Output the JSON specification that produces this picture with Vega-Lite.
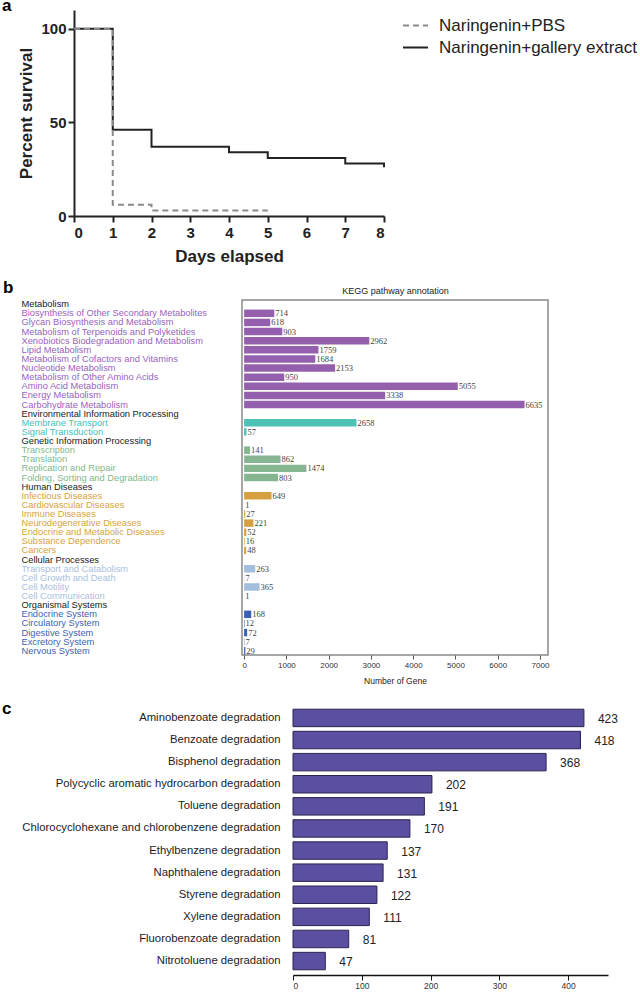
{
  "$schema": "https://vega.github.io/schema/vega-lite/v6.json",
  "background": "white",
  "padding": {"left": 1, "top": -3, "right": 0, "bottom": 0},
  "config": {
    "view": {"stroke": null},
    "font": "Liberation Sans",
    "axis": {"grid": false}
  },
  "datasets": {
    "survival": [
      {"group": "Naringenin+gallery extract", "day": 0, "pct": 100},
      {"group": "Naringenin+gallery extract", "day": 1, "pct": 46},
      {"group": "Naringenin+gallery extract", "day": 2, "pct": 37},
      {"group": "Naringenin+gallery extract", "day": 4, "pct": 34},
      {"group": "Naringenin+gallery extract", "day": 5, "pct": 31},
      {"group": "Naringenin+gallery extract", "day": 7, "pct": 28},
      {"group": "Naringenin+gallery extract", "day": 8, "pct": 26},
      {"group": "Naringenin+PBS", "day": 0, "pct": 100},
      {"group": "Naringenin+PBS", "day": 1, "pct": 6},
      {"group": "Naringenin+PBS", "day": 2, "pct": 3},
      {"group": "Naringenin+PBS", "day": 5, "pct": 3}
    ],
    "kegg": [
      {"grp": "Metabolism", "cat": "Biosynthesis of Other Secondary Metabolites", "n": 714},
      {"grp": "Metabolism", "cat": "Glycan Biosynthesis and Metabolism", "n": 618},
      {"grp": "Metabolism", "cat": "Metabolism of Terpenoids and Polyketides", "n": 903},
      {"grp": "Metabolism", "cat": "Xenobiotics Biodegradation and Metabolism", "n": 2962},
      {"grp": "Metabolism", "cat": "Lipid Metabolism", "n": 1759},
      {"grp": "Metabolism", "cat": "Metabolism of Cofactors and Vitamins", "n": 1684},
      {"grp": "Metabolism", "cat": "Nucleotide Metabolism", "n": 2153},
      {"grp": "Metabolism", "cat": "Metabolism of Other Amino Acids", "n": 950},
      {"grp": "Metabolism", "cat": "Amino Acid Metabolism", "n": 5055},
      {"grp": "Metabolism", "cat": "Energy Metabolism", "n": 3338},
      {"grp": "Metabolism", "cat": "Carbohydrate Metabolism", "n": 6635},
      {"grp": "Environmental Information Processing", "cat": "Membrane Transport", "n": 2658},
      {"grp": "Environmental Information Processing", "cat": "Signal Transduction", "n": 57},
      {"grp": "Genetic Information Processing", "cat": "Transcription", "n": 141},
      {"grp": "Genetic Information Processing", "cat": "Translation", "n": 862},
      {"grp": "Genetic Information Processing", "cat": "Replication and Repair", "n": 1474},
      {"grp": "Genetic Information Processing", "cat": "Folding, Sorting and Degradation", "n": 803},
      {"grp": "Human Diseases", "cat": "Infectious Diseases", "n": 649},
      {"grp": "Human Diseases", "cat": "Cardiovascular Diseases", "n": 1},
      {"grp": "Human Diseases", "cat": "Immune Diseases", "n": 27},
      {"grp": "Human Diseases", "cat": "Neurodegenerative Diseases", "n": 221},
      {"grp": "Human Diseases", "cat": "Endocrine and Metabolic Diseases", "n": 52},
      {"grp": "Human Diseases", "cat": "Substance Dependence", "n": 16},
      {"grp": "Human Diseases", "cat": "Cancers", "n": 48},
      {"grp": "Cellular Processes", "cat": "Transport and Catabolism", "n": 263},
      {"grp": "Cellular Processes", "cat": "Cell Growth and Death", "n": 7},
      {"grp": "Cellular Processes", "cat": "Cell Motility", "n": 365},
      {"grp": "Cellular Processes", "cat": "Cell Communication", "n": 1},
      {"grp": "Organismal Systems", "cat": "Endocrine System", "n": 168},
      {"grp": "Organismal Systems", "cat": "Circulatory System", "n": 12},
      {"grp": "Organismal Systems", "cat": "Digestive System", "n": 72},
      {"grp": "Organismal Systems", "cat": "Excretory System", "n": 7},
      {"grp": "Organismal Systems", "cat": "Nervous System", "n": 29}
    ],
    "xeno": [
      {"name": "Aminobenzoate degradation", "v": 423},
      {"name": "Benzoate degradation", "v": 418},
      {"name": "Bisphenol degradation", "v": 368},
      {"name": "Polycyclic aromatic hydrocarbon degradation", "v": 202},
      {"name": "Toluene degradation", "v": 191},
      {"name": "Chlorocyclohexane and chlorobenzene degradation", "v": 170},
      {"name": "Ethylbenzene degradation", "v": 137},
      {"name": "Naphthalene degradation", "v": 131},
      {"name": "Styrene degradation", "v": 122},
      {"name": "Xylene degradation", "v": 111},
      {"name": "Fluorobenzoate degradation", "v": 81},
      {"name": "Nitrotoluene degradation", "v": 47}
    ]
  },
  "spacing": 14,
  "resolve": {"scale": {"color": "independent", "strokeDash": "independent"}, "legend": {"color": "independent", "strokeDash": "independent"}},
  "vconcat": [
    {
      "spacing": 0,
      "hconcat": [
        {"width": 1, "height": 1, "data": {"values": []}, "mark": "point"},
        {
          "width": 310, "height": 206,
          "title": {"text": "a", "anchor": "start", "frame": "group", "orient": "top", "baseline": "alphabetic", "offset": -18, "dx": -72, "fontSize": 17, "fontWeight": "bold", "color": "#000", "font": "Liberation Sans"},
          "data": {"name": "survival"},
          "mark": {"type": "line", "interpolate": "step-after", "strokeWidth": 2},
          "encoding": {
            "x": {"field": "day", "type": "quantitative",
              "scale": {"domain": [0, 8], "nice": false},
              "axis": {"values": [0,1,2,3,4,5,6,7,8], "title": "Days elapsed", "domainColor": "#222", "domainWidth": 2, "tickColor": "#222", "tickWidth": 2, "tickSize": 6, "labelFontSize": 15, "labelFontWeight": "bold", "labelColor": "#222", "labelPadding": 3, "titleFontSize": 17, "titleFontWeight": "bold", "titleColor": "#222", "titlePadding": 8}},
            "y": {"field": "pct", "type": "quantitative",
              "scale": {"domain": [0, 110], "nice": false},
              "axis": {"values": [0, 50, 100], "title": "Percent survival", "domainColor": "#222", "domainWidth": 2, "tickColor": "#222", "tickWidth": 2, "tickSize": 6, "labelFontSize": 15, "labelFontWeight": "bold", "labelColor": "#222", "labelPadding": 2, "titleFontSize": 17, "titleFontWeight": "bold", "titleColor": "#222", "titlePadding": 5}},
            "color": {"field": "group", "type": "nominal",
              "scale": {"domain": ["Naringenin+PBS", "Naringenin+gallery extract"], "range": ["#8a8a8a", "#222222"]},
              "legend": {"orient": "none", "legendX": 401, "legendY": 2, "title": null, "symbolType": "stroke", "symbolSize": 625, "symbolStrokeWidth": 2, "labelFontSize": 17, "labelColor": "#222", "labelFont": "Liberation Sans", "rowPadding": 0, "labelOffset": 10, "labelLimit": 300}},
            "strokeDash": {"field": "group", "type": "nominal",
              "scale": {"domain": ["Naringenin+PBS", "Naringenin+gallery extract"], "range": [[6, 4], [1, 0]]}}
          }
        }
      ]
    },
    {
      "spacing": 0,
      "hconcat": [
        {"width": 1, "height": 1, "data": {"values": []}, "mark": "point"},
        {
          "width": 306, "height": 355,
          "view": {"stroke": "#8a8a8a", "strokeWidth": 1.5},
          "title": {"text": "b", "anchor": "start", "frame": "group", "orient": "top", "baseline": "alphabetic", "offset": -24, "dx": -239, "fontSize": 17, "fontWeight": "bold", "color": "#000", "font": "Liberation Sans"},
          "data": {"name": "kegg"},
          "resolve": {"axis": {"x": "independent"}},
          "encoding": {
            "y": {"field": "cat", "type": "nominal", "sort": null,
              "scale": {"domain": ["Metabolism","Biosynthesis of Other Secondary Metabolites","Glycan Biosynthesis and Metabolism","Metabolism of Terpenoids and Polyketides","Xenobiotics Biodegradation and Metabolism","Lipid Metabolism","Metabolism of Cofactors and Vitamins","Nucleotide Metabolism","Metabolism of Other Amino Acids","Amino Acid Metabolism","Energy Metabolism","Carbohydrate Metabolism","Environmental Information Processing","Membrane Transport","Signal Transduction","Genetic Information Processing","Transcription","Translation","Replication and Repair","Folding, Sorting and Degradation","Human Diseases","Infectious Diseases","Cardiovascular Diseases","Immune Diseases","Neurodegenerative Diseases","Endocrine and Metabolic Diseases","Substance Dependence","Cancers","Cellular Processes","Transport and Catabolism","Cell Growth and Death","Cell Motility","Cell Communication","Organismal Systems","Endocrine System","Circulatory System","Digestive System","Excretory System","Nervous System"], "paddingInner": 0.18, "paddingOuter": 0.05},
              "axis": {"title": null, "domain": false, "ticks": false, "tickSize": 0, "labelAlign": "left", "labelBaseline": "middle", "labelPadding": 221, "labelLimit": 400, "labelOverlap": false, "labelFontSize": 9.3, "labelFont": "Liberation Sans",
                "labelExpr": "indexof(['Metabolism','Environmental Information Processing','Genetic Information Processing','Human Diseases','Cellular Processes','Organismal Systems'], datum.value) >= 0 ? datum.value : '\u00a0\u00a0' + datum.value",
                "labelColor": {"condition": [
                  {"test": "indexof(['Metabolism','Environmental Information Processing','Genetic Information Processing','Human Diseases','Cellular Processes','Organismal Systems'], datum.value) >= 0", "value": "#1a1a1a"},
                  {"test": "indexof(['Membrane Transport','Signal Transduction'], datum.value) >= 0", "value": "#45c1b5"},
                  {"test": "indexof(['Transcription','Translation','Replication and Repair','Folding, Sorting and Degradation'], datum.value) >= 0", "value": "#7fb98c"},
                  {"test": "indexof(['Infectious Diseases','Cardiovascular Diseases','Immune Diseases','Neurodegenerative Diseases','Endocrine and Metabolic Diseases','Substance Dependence','Cancers'], datum.value) >= 0", "value": "#d9a23c"},
                  {"test": "indexof(['Transport and Catabolism','Cell Growth and Death','Cell Motility','Cell Communication'], datum.value) >= 0", "value": "#a9c1e0"},
                  {"test": "indexof(['Endocrine System','Circulatory System','Digestive System','Excretory System','Nervous System'], datum.value) >= 0", "value": "#3d5fb0"}
                ], "value": "#9b5fc0"}}},
            "x": {"field": "n", "type": "quantitative",
              "scale": {"domain": [-50, 7190], "nice": false, "zero": false}}
          },
          "layer": [
            {
              "mark": {"type": "bar"},
              "encoding": {
                "x": {"field": "n", "type": "quantitative",
                  "axis": {"values": [0,1000,2000,3000,4000,5000,6000,7000], "format": "d", "title": "Number of Gene", "domain": false, "tickSize": 4, "tickColor": "#555", "labelFontSize": 8, "labelColor": "#333", "labelPadding": 2, "titleFontSize": 8.5, "titleFontWeight": "normal", "titleColor": "#222", "titlePadding": 7}},
                "color": {"field": "grp", "type": "nominal", "legend": null,
                  "scale": {"domain": ["Metabolism","Environmental Information Processing","Genetic Information Processing","Human Diseases","Cellular Processes","Organismal Systems"],
                    "range": ["#9460ae","#4cc2b6","#86b592","#d6a040","#a3bddc","#3a60b5"]}}
              }
            },
            {
              "mark": {"type": "text", "align": "left", "baseline": "middle", "dx": 1, "font": "Liberation Serif", "fontSize": 8.5, "color": "#444"},
              "encoding": {
                "x": {"field": "n", "type": "quantitative",
                  "axis": {"orient": "top", "title": "KEGG pathway annotation", "labels": false, "ticks": false, "domain": false, "titleFontSize": 9, "titleFontWeight": "normal", "titleColor": "#222", "titlePadding": 5}},
                "text": {"field": "n", "type": "quantitative"}
              }
            }
          ]
        }
      ]
    },
    {
      "spacing": 0,
      "hconcat": [
        {"width": 1, "height": 1, "data": {"values": []}, "mark": "point"},
        {
          "width": 315, "height": 265,
          "title": {"text": "c", "anchor": "start", "frame": "group", "orient": "top", "baseline": "alphabetic", "offset": -24, "dx": -291, "fontSize": 17, "fontWeight": "bold", "color": "#000", "font": "Liberation Sans"},
          "data": {"name": "xeno"},
          "encoding": {
            "y": {"field": "name", "type": "nominal", "sort": null,
              "scale": {"paddingInner": 0.21, "paddingOuter": 0.1},
              "axis": {"title": null, "domain": false, "ticks": false, "labelPadding": 13, "labelLimit": 400, "labelFontSize": 11.3, "labelFont": "Liberation Sans", "labelColor": "#222"}},
            "x": {"field": "v", "type": "quantitative",
              "scale": {"domain": [0, 458], "nice": false},
              "axis": {"values": [0,100,200,300,400], "title": null, "offset": 3, "domainColor": "#111", "domainWidth": 1.5, "tickColor": "#111", "tickSize": 5, "labelFontSize": 8.5, "labelColor": "#333", "labelPadding": 1}}
          },
          "layer": [
            {"mark": {"type": "bar", "color": "#5a4fa0", "stroke": "#2b2550", "strokeWidth": 1}},
            {"mark": {"type": "text", "align": "left", "baseline": "middle", "dx": 14, "dy": 1, "font": "Liberation Sans", "fontSize": 12, "color": "#222"},
             "encoding": {"text": {"field": "v", "type": "quantitative"}}}
          ]
        }
      ]
    }
  ]
}
